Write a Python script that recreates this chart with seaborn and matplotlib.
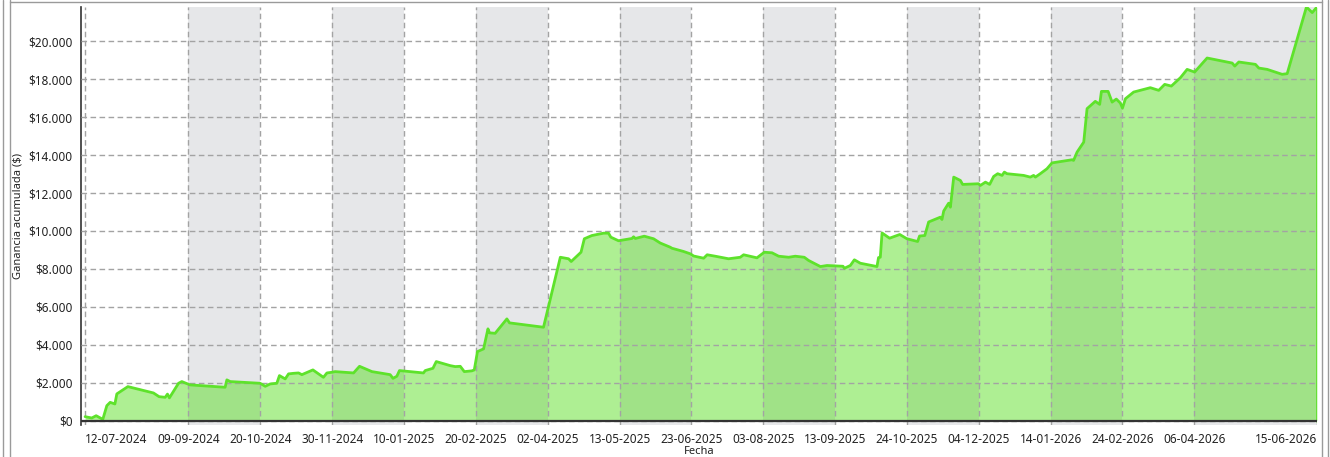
import pandas as pd
import numpy as np
import matplotlib
matplotlib.use("Agg")
import matplotlib.pyplot as plt
import seaborn as sns
from matplotlib.lines import Line2D
from matplotlib.ticker import FuncFormatter

# Curva de ganancia acumulada (dias desde la primera operacion, ganancia en $)
fecha_inicio = "2024-07-12"
dias = [0, 3.8, 6.3, 10.1, 12.4, 14.3, 17.0, 18.1, 24.4, 39.0,
        42.2, 45.7, 47.0, 48.1, 53.3, 55.2, 59.9, 79.9, 80.9, 82.8,
        99.9, 102.8, 105.6, 109.4, 110.9, 114.2, 116.1, 118.9, 121.8, 123.7,
        130.0, 133.2, 136.0, 138.0, 140.8, 142.7, 153.2, 156.6, 163.7, 174.1,
        175.7, 177.9, 179.4, 193.1, 194.1, 198.5, 200.4, 208.4, 211.2, 214.1,
        216.4, 220.7, 222.1, 223.9, 227.4, 229.9, 230.8, 234.0, 240.7, 242.2,
        261.6, 271.2, 275.9, 277.4, 283.0, 284.9, 289.2, 295.9, 298.7, 300.0,
        304.4, 312.1, 313.0, 314.0, 319.1, 324.4, 328.2, 333.9, 334.9, 337.4,
        341.5, 345.4, 347.3, 353.0, 355.0, 359.6, 367.2, 373.9, 375.8, 383.4,
        387.6, 392.0, 395.8, 401.5, 405.3, 410.4, 412.9, 419.6, 423.4, 432.5,
        433.3, 436.7, 439.0, 442.4, 451.9, 452.8, 453.8, 454.8, 459.1, 464.9,
        469.0, 475.1, 476.2, 479.2, 481.4, 488.1, 489.0, 490.0, 492.8, 493.8,
        495.7, 499.5, 500.8, 509.9, 510.9, 513.8, 516.2, 518.5, 520.8, 523.3,
        524.6, 526.1, 535.6, 539.4, 541.3, 542.3, 545.1, 548.9, 551.8, 563.2,
        564.1, 566.1, 569.9, 571.8, 576.5, 579.0, 580.0, 583.8, 586.1, 588.5,
        590.8, 592.0, 593.7, 598.4, 607.9, 612.7, 616.1, 619.9, 625.1, 628.9,
        633.2, 640.3, 654.6, 656.1, 658.4, 667.9, 669.8, 674.6, 683.1, 686.0,
        697.0, 700.3, 703.0]
ganancia = [210, 140, 260, 70, 790, 965, 880, 1410, 1795, 1460,
            1265, 1230, 1400, 1200, 1970, 2060, 1885, 1760, 2150, 2060,
            1970, 1810, 1935, 1970, 2375, 2200, 2465, 2495, 2515, 2425,
            2675, 2465, 2285, 2515, 2550, 2585, 2515, 2865, 2585, 2425,
            2230, 2340, 2640, 2515, 2640, 2760, 3115, 2900, 2850, 2865,
            2585, 2625, 2675, 3640, 3785, 4840, 4630, 4605, 5365, 5155,
            4925, 8615, 8535, 8390, 8880, 9590, 9760, 9885, 9885, 9675,
            9485, 9605, 9695, 9605, 9725, 9590, 9365, 9145, 9090, 9025,
            8920, 8795, 8680, 8565, 8745, 8670, 8535, 8615, 8745, 8585,
            8880, 8850, 8670, 8615, 8670, 8615, 8445, 8125, 8180, 8140,
            8035, 8180, 8480, 8300, 8125, 8600, 8615, 9895, 9620, 9815,
            9590, 9445, 9735, 9760, 10475, 10730, 10605, 11055, 11465, 11255,
            12840, 12665, 12455, 12490, 12400, 12575, 12455, 12875, 13020, 12930,
            13105, 13020, 12930, 12840, 12930, 12840, 13020, 13280, 13590, 13755,
            13720, 14160, 14685, 16450, 16835, 16675, 17360, 17360, 16795, 16955,
            16745, 16480, 16975, 17325, 17555, 17415, 17730, 17640, 18085, 18520,
            18380, 19120, 18855, 18695, 18910, 18785, 18590, 18520, 18260, 18295,
            21810, 21515, 21810]

etiquetas_fecha = ["12-07-2024", "09-09-2024", "20-10-2024", "30-11-2024",
                   "10-01-2025", "20-02-2025", "02-04-2025", "13-05-2025",
                   "23-06-2025", "03-08-2025", "13-09-2025", "24-10-2025",
                   "04-12-2025", "14-01-2026", "24-02-2026", "06-04-2026",
                   "15-06-2026"]
valores_y = list(range(0, 20001, 2000))

df = pd.DataFrame({
    "Fecha": pd.Timestamp(fecha_inicio) + pd.to_timedelta(dias, unit="D"),
    "Ganancia": ganancia,
})
ticks = pd.to_datetime(etiquetas_fecha, format="%d-%m-%Y")

sns.set_theme(style="white")
plt.rcParams["font.family"] = ["Noto Sans", "DejaVu Sans"]

fig = plt.figure(figsize=(13.3, 4.57), dpi=100)
ax = fig.add_axes([0.0607, 0.070, 0.9295, 0.9147])

# bandas grises alternas entre marcas
for i in range(1, len(ticks) - 1, 2):
    ax.axvspan(ticks[i], ticks[i + 1], color="#e6e7e9", lw=0, zorder=0)

ax.fill_between(df["Fecha"], 0, df["Ganancia"], color="#4cdc10", alpha=0.45,
                lw=0, zorder=1)
sns.lineplot(data=df, x="Fecha", y="Ganancia", estimator=None, sort=False,
             color="#5ee22b", lw=2, ax=ax, zorder=3)
ax.plot([df["Fecha"].iloc[-1]] * 2, [0, ganancia[-1]], color="#5ee22b", lw=2, zorder=3)
ax.axhline(0, color="#333333", lw=1.6, zorder=4)

ax.set_xlim(ticks[0] - pd.Timedelta(days=2.5), ticks[-1])
ax.set_ylim(-230, max(ganancia))

ax.set_xticks(ticks, etiquetas_fecha)
ax.set_yticks(valores_y)
ax.yaxis.set_major_formatter(FuncFormatter(lambda v, p: "$" + f"{v:,.0f}".replace(",", ".")))
xl = ax.get_xticklabels()
xl[0].set_horizontalalignment("left")
xl[-1].set_horizontalalignment("right")

ax.set_axisbelow(False)
ax.grid(True, color="#a3a3a3", linestyle=(0, (4, 2.5)), lw=1)
ax.tick_params(axis="both", labelsize=8.5, colors="#222222", length=4, width=1,
               pad=2, direction="out")
ax.tick_params(axis="x", colors="#888888", labelcolor="#222222")
for s in ["top", "right", "bottom"]:
    ax.spines[s].set_visible(False)
ax.spines["left"].set_color("#333333")
ax.spines["left"].set_linewidth(1.2)

ax.set_xlabel("Fecha", fontsize=8, color="#222222", labelpad=0)
ax.set_ylabel("Ganancia acumulada ($)", fontsize=8, color="#222222", labelpad=3)

# marco de la ventana
W, H = 1330, 457
for x in [2.5, 9.5, 1321.5, 1327.5]:
    fig.add_artist(Line2D([x / W, x / W], [0, 1], color="#9a9a9a", lw=1,
                          transform=fig.transFigure))
fig.add_artist(Line2D([9.5 / W, 1321.5 / W], [1 - 1.5 / H] * 2, color="#9a9a9a",
                      lw=1, transform=fig.transFigure))

fig.savefig("out.png", dpi=100)
